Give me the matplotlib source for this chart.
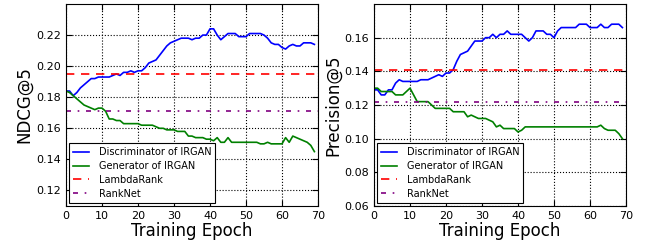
import matplotlib
matplotlib.use('Agg')
import matplotlib.pyplot as plt
import numpy as np

epochs = np.arange(70)

# NDCG@5
ndcg_d = [0.184, 0.184, 0.181, 0.183, 0.186, 0.188, 0.190, 0.192, 0.192, 0.193,
          0.193, 0.193, 0.193, 0.194, 0.195, 0.194, 0.196, 0.196, 0.197, 0.196,
          0.197, 0.197, 0.199, 0.202, 0.203, 0.204, 0.207, 0.210, 0.213, 0.215,
          0.216, 0.217, 0.218, 0.218, 0.218, 0.217, 0.218, 0.218, 0.220, 0.220,
          0.224, 0.224, 0.220, 0.217, 0.219, 0.221, 0.221, 0.221, 0.219, 0.219,
          0.219, 0.221, 0.221, 0.221, 0.221, 0.220, 0.218, 0.215, 0.214, 0.214,
          0.212, 0.211, 0.213, 0.214, 0.213, 0.213, 0.215, 0.215, 0.215, 0.214]
ndcg_g = [0.184, 0.183, 0.181, 0.179, 0.177, 0.175, 0.174, 0.173, 0.172, 0.173,
          0.173, 0.171, 0.166, 0.166, 0.165, 0.165, 0.163, 0.163, 0.163, 0.163,
          0.163, 0.162, 0.162, 0.162, 0.162, 0.161, 0.160, 0.160, 0.159, 0.159,
          0.159, 0.158, 0.158, 0.158, 0.155, 0.155, 0.154, 0.154, 0.154, 0.153,
          0.153, 0.152, 0.154, 0.151, 0.151, 0.154, 0.151, 0.151, 0.151, 0.151,
          0.151, 0.151, 0.151, 0.151, 0.150, 0.150, 0.151, 0.150, 0.150, 0.150,
          0.150, 0.154, 0.151, 0.155, 0.154, 0.153, 0.152, 0.151, 0.149, 0.145]
ndcg_lambdarank = 0.195
ndcg_ranknet = 0.171

# Precision@5
prec_d = [0.129, 0.129, 0.126, 0.126, 0.129, 0.129, 0.133, 0.135, 0.134, 0.134,
          0.134, 0.134, 0.134, 0.135, 0.135, 0.135, 0.136, 0.137, 0.138, 0.137,
          0.139, 0.139, 0.141, 0.146, 0.150, 0.151, 0.152, 0.155, 0.158, 0.158,
          0.158, 0.160, 0.160, 0.162, 0.160, 0.162, 0.162, 0.164, 0.162, 0.162,
          0.162, 0.162, 0.160, 0.158, 0.160, 0.164, 0.164, 0.164, 0.162, 0.162,
          0.160, 0.164, 0.166, 0.166, 0.166, 0.166, 0.166, 0.168, 0.168, 0.168,
          0.166, 0.166, 0.166, 0.168, 0.166, 0.166, 0.168, 0.168, 0.168, 0.166]
prec_g = [0.130, 0.130, 0.128, 0.128, 0.128, 0.128, 0.126, 0.126, 0.126, 0.128,
          0.130, 0.126, 0.122, 0.122, 0.122, 0.122, 0.120, 0.118, 0.118, 0.118,
          0.118, 0.118, 0.116, 0.116, 0.116, 0.116, 0.113, 0.114, 0.113, 0.112,
          0.112, 0.112, 0.111, 0.110, 0.107, 0.108, 0.106, 0.106, 0.106, 0.106,
          0.104, 0.105, 0.107, 0.107, 0.107, 0.107, 0.107, 0.107, 0.107, 0.107,
          0.107, 0.107, 0.107, 0.107, 0.107, 0.107, 0.107, 0.107, 0.107, 0.107,
          0.107, 0.107, 0.107, 0.108, 0.106, 0.105, 0.105, 0.105, 0.103, 0.100]
prec_lambdarank = 0.141
prec_ranknet = 0.122

labels = ['Discriminator of IRGAN', 'Generator of IRGAN', 'LambdaRank', 'RankNet']


def draw(ax, d, g, lr, rn, ylabel, ylim, yticks):
    ax.plot(epochs, d, color='blue', lw=1.2, label=labels[0])
    ax.plot(epochs, g, color='green', lw=1.2, label=labels[1])
    ax.axhline(lr, color='red', lw=1.2, ls=(0, (5, 4)), label=labels[2])
    ax.axhline(rn, color='purple', lw=1.2, ls=(0, (3, 4, 1, 4)), label=labels[3])
    ax.set_xlim(0, 70)
    ax.set_ylim(*ylim)
    ax.set_xticks(range(0, 71, 10))
    ax.set_yticks(yticks)
    ax.yaxis.set_major_formatter(matplotlib.ticker.FormatStrFormatter('%.2f'))
    ax.grid(True, color='black', ls=':', lw=0.8)
    ax.tick_params(direction='in', top=True, right=True, labelsize=8, length=4)
    ax.set_xlabel('Training Epoch', fontsize=12, labelpad=1)
    ax.set_ylabel(ylabel, fontsize=12, labelpad=2)
    leg = ax.legend(loc='lower left', fontsize=7, fancybox=False, framealpha=1,
                    handlelength=1.6, handletextpad=1.0, labelspacing=0.4,
                    borderaxespad=0.35)
    leg.get_frame().set_edgecolor('black')
    leg.get_frame().set_linewidth(0.8)


fig = plt.figure(figsize=(6.5, 2.42), dpi=100)
ax1 = fig.add_axes([66 / 650, 1 - 206 / 242, 252 / 650, 202 / 242])
ax2 = fig.add_axes([374 / 650, 1 - 206 / 242, 252 / 650, 202 / 242])

draw(ax1, ndcg_d, ndcg_g, ndcg_lambdarank, ndcg_ranknet, 'NDCG@5',
     (0.11, 0.24), np.arange(0.12, 0.23, 0.02))
draw(ax2, prec_d, prec_g, prec_lambdarank, prec_ranknet, 'Precision@5',
     (0.06, 0.18), np.arange(0.06, 0.17, 0.02))

fig.savefig('out.png', dpi=100)
